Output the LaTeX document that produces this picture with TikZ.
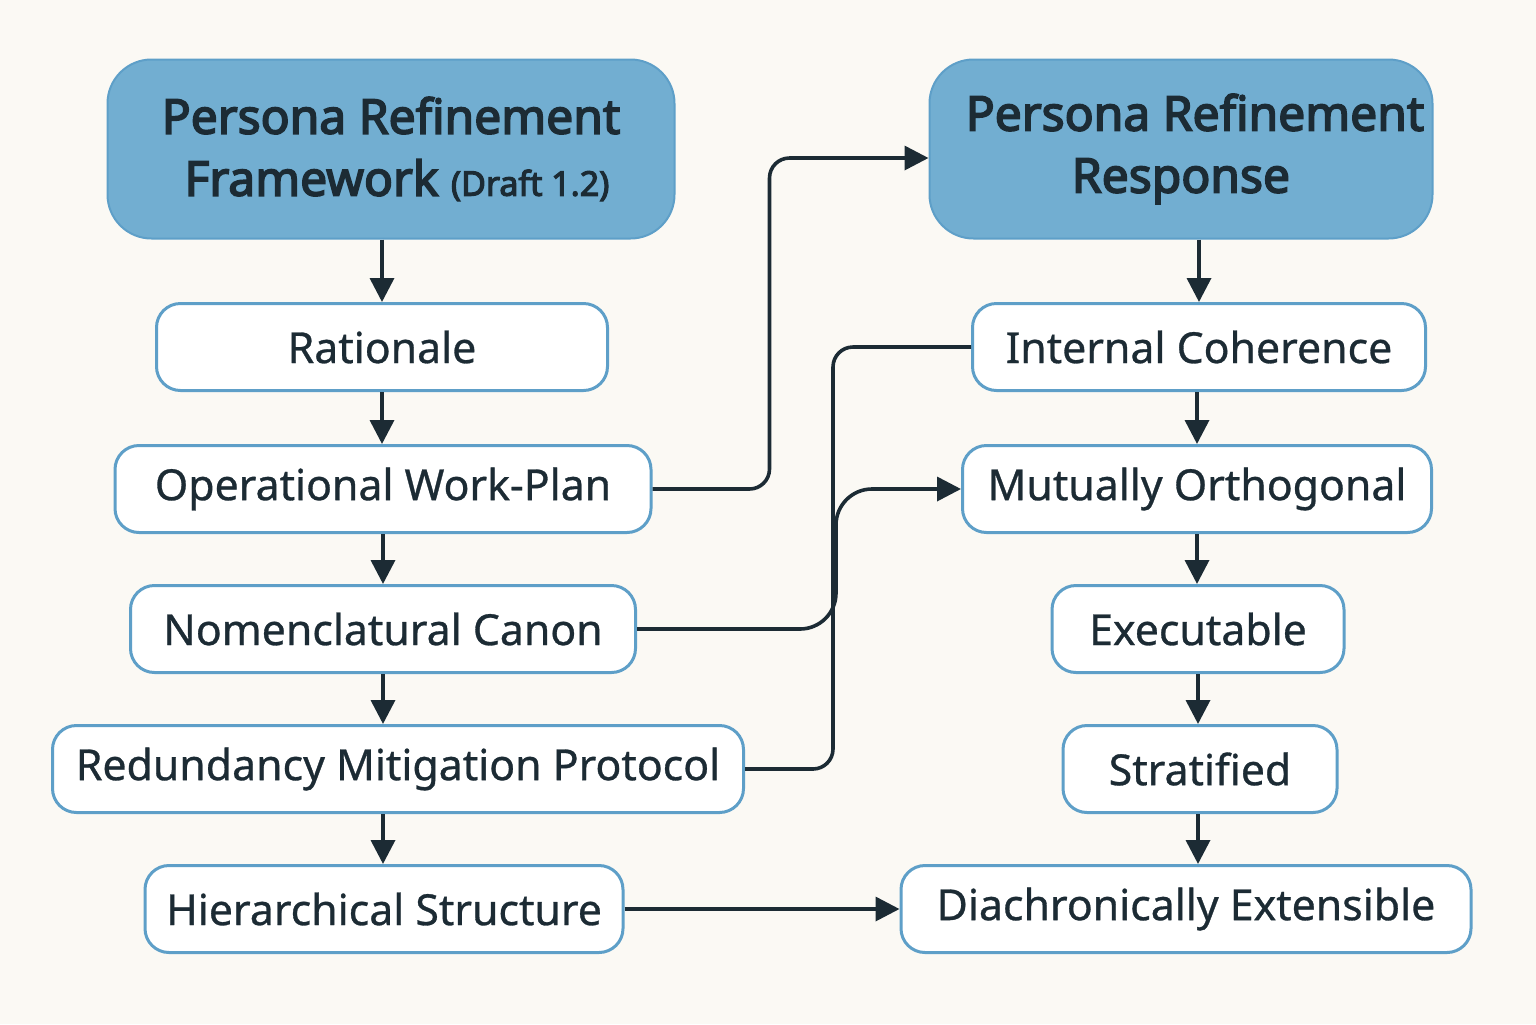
\documentclass[tikz,border=0pt]{standalone}
\usepackage{fontspec}
\setmainfont{Noto Sans}[FakeBold=0.7]
\newfontfamily\headfont{Noto Sans}[FakeBold=3.4]
\usetikzlibrary{arrows.meta,positioning,calc}
\definecolor{bgpaper}{HTML}{FBF9F4}
\definecolor{headfill}{HTML}{72AED1}
\definecolor{boxline}{HTML}{5E9FC8}
\definecolor{ink}{HTML}{1C2B34}

\begin{document}
\begin{tikzpicture}[x=0.5pt,y=-0.5pt,
    stage/.style={draw=boxline, line width=1.5pt, rounded corners=12pt, fill=white,
      minimum height=43.5pt, inner sep=0pt, text=ink, font=\fontsize{21.4}{25}\selectfont},
    head/.style={draw=boxline, line width=1pt, rounded corners=22pt, fill=headfill,
      minimum height=89.5pt, inner sep=0pt, align=center, text=ink,
      font=\headfont\fontsize{24}{31}\selectfont},
    conn/.style={draw=ink, line width=1.8pt, rounded corners=10pt,
      -{Triangle[length=12pt,width=12pt]}},
    link/.style={draw=ink, line width=1.8pt, rounded corners=10pt}]
    \useasboundingbox[fill=bgpaper] (0,0) rectangle (1536,1024);

    % left column
    \node [head, minimum width=283.5pt] (frame) at (391,149)
      {Persona Refinement\\\hspace*{6pt}Framework {\fontsize{17}{20}\selectfont(Draft 1.2)}};
    \node [stage, minimum width=225.5pt] (rat) at (382,347) {Rationale};
    \node [stage, minimum width=268pt] (oper) at (383,489) {Operational Work-Plan};
    \node [stage, minimum width=252.5pt] (nomen) at (383,629) {Nomenclatural Canon};
    \node [stage, minimum width=345.5pt] (redund) at (398,769) {Redundancy Mitigation Protocol};
    \node [stage, minimum width=239pt] (hier) at (384,909) {Hierarchical Structure};

    % right column
    \node [head, minimum width=251.5pt] (resp) at (1181,149) {\hspace*{14pt}Persona Refinement\\Response};
    \node [stage, minimum width=226.5pt] (coh) at (1199,347) {Internal Coherence};
    \node [stage, minimum width=234.5pt] (orth) at (1197,489) {Mutually Orthogonal};
    \node [stage, minimum width=146pt] (exec) at (1198,629) {Executable};
    \node [stage, minimum width=137pt] (strat) at (1200,769) {Stratified};
    \node [stage, minimum width=285pt] (diach) at (1186,909) {Diachronically Extensible};

    % chains
    \draw [conn] (rat.north |- frame.south) -- (rat.north);
    \draw [conn] (rat.south) -- (rat.south |- oper.north);
    \draw [conn] (oper.south) -- (oper.south |- nomen.north);
    \draw [conn] (nomen.south) -- (nomen.south |- redund.north);
    \draw [conn] (nomen.south |- redund.south) -- (nomen.south |- hier.north);

    \draw [conn] (coh.north |- resp.south) -- (coh.north);
    \draw [conn] (orth.north |- coh.south) -- (orth.north);
    \draw [conn] (orth.south) -- (orth.south |- exec.north);
    \draw [conn] (exec.south) -- (exec.south |- strat.north);
    \draw [conn] (exec.south |- strat.south) -- (exec.south |- diach.north);

    % cross links
    \draw [conn] (oper.east) -- ++(117,0) |- ([yshift=-4.5pt]resp.west);
    \draw [link] (coh.west) -- ++(-138,0) |- (redund.east);
    \draw [conn, rounded corners=18pt] (nomen.east) -- ++(199,0) |- (orth.west);
    \draw [conn] (hier.east) -- (diach.west);
\end{tikzpicture}
\end{document}
